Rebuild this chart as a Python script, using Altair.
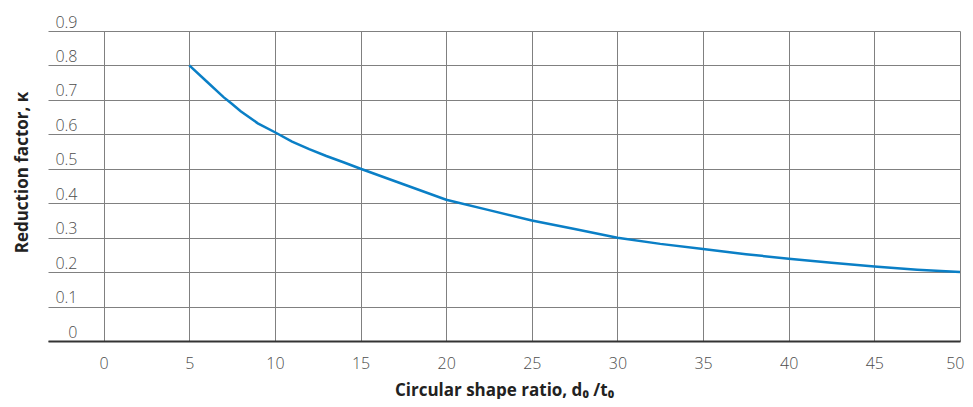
import altair as alt
import pandas as pd

# Circular shape ratio d0/t0
d_values = [5, 6, 7, 7.5, 8, 9, 10, 11, 12, 13, 14, 15, 17.5, 20, 22.5, 25,
            27.5, 30, 32.5, 35, 37.5, 40, 42.5, 45, 47.5, 50]
# Reduction factor kappa
kappa_values = [0.800, 0.754, 0.708, 0.688, 0.667, 0.632, 0.606, 0.579, 0.557,
                0.537, 0.519, 0.500, 0.455, 0.410, 0.380, 0.350, 0.325, 0.300,
                0.282, 0.267, 0.252, 0.239, 0.227, 0.216, 0.207, 0.200]

x_ticks = [0, 5, 10, 15, 20, 25, 30, 35, 40, 45, 50]
y_ticks = [0, 0.1, 0.2, 0.3, 0.4, 0.5, 0.6, 0.7, 0.8, 0.9]

df = pd.DataFrame({"d": d_values, "k": kappa_values})

FONT = "Open Sans"

chart = alt.Chart(df).mark_line(color="#0a7fc6", strokeWidth=2.5).encode(
    x=alt.X(
        "d:Q",
        scale=alt.Scale(domain=[-3.25, 50], nice=False, zero=False),
        axis=alt.Axis(
            values=x_ticks,
            format="d",
            title="Circular shape ratio, d\u2080 /t\u2080",
            titleFont=FONT,
            titleFontSize=17,
            titleFontWeight="bold",
            titleColor="#222222",
            titleBaseline="alphabetic",
            titleY=54,
            labelFont=FONT,
            labelFontSize=16,
            labelFontWeight=300,
            labelColor="#4d4d4d",
            labelBaseline="alphabetic",
            labelPadding=27,
            labelFlush=True,
            labelFlushOffset=4,
            ticks=False,
            tickSize=0,
            domain=True,
            domainColor="#333333",
            domainWidth=2,
            grid=True,
            gridColor="#808080",
            gridWidth=1,
        ),
    ),
    y=alt.Y(
        "k:Q",
        scale=alt.Scale(domain=[0, 0.9], nice=False, zero=True),
        axis=alt.Axis(
            values=y_ticks,
            format=".1~f",
            title="Reduction factor, \u03ba",
            titleFont=FONT,
            titleFontSize=17,
            titleFontWeight="bold",
            titleColor="#222222",
            titleAngle=270,
            titleAlign="center",
            titleBaseline="middle",
            titleX=-26,
            titleY=141,
            labelFont=FONT,
            labelFontSize=16,
            labelFontWeight=300,
            labelColor="#4d4d4d",
            labelAlign="right",
            labelBaseline="alphabetic",
            labelPadding=-29,
            labelOffset=-4,
            labelFlush=False,
            ticks=False,
            tickSize=0,
            domain=False,
            grid=True,
            gridColor="#808080",
            gridWidth=1,
        ),
    ),
).properties(
    width=912,
    height=310,
    padding={"left": 40, "top": 23, "right": 5, "bottom": 58},
    autosize=alt.AutoSizeParams(type="none"),
).configure_view(stroke="transparent")

chart.save("out.html", embed_options={"renderer": "svg", "actions": False})
